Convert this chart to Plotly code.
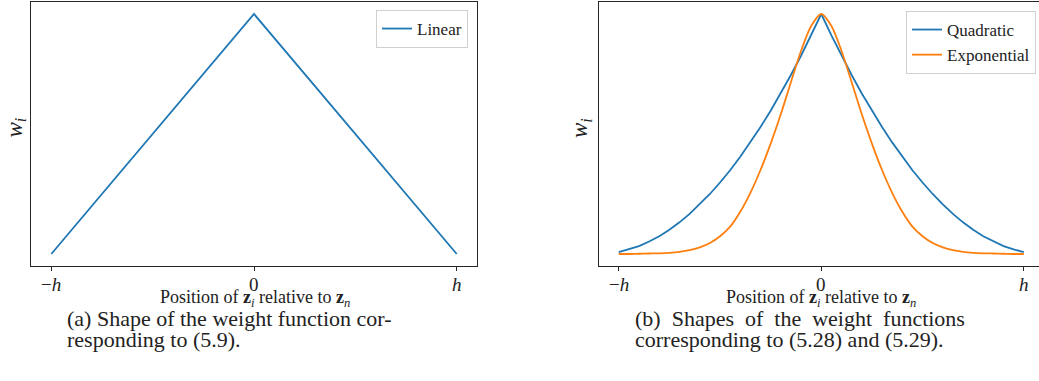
import plotly.graph_objects as go

# Relative position of z_i with respect to z_n (in units of h)
positions = [-1.00, -0.95, -0.90, -0.85, -0.80, -0.75, -0.70, -0.65, -0.60, -0.55,
             -0.50, -0.45, -0.40, -0.35, -0.30, -0.25, -0.20, -0.15, -0.10, -0.05,
             0.00, 0.05, 0.10, 0.15, 0.20, 0.25, 0.30, 0.35, 0.40, 0.45,
             0.50, 0.55, 0.60, 0.65, 0.70, 0.75, 0.80, 0.85, 0.90, 0.95, 1.00]

linear_pos = [-1.0, 0.0, 1.0]
linear_w = [0.0, 1.0, 0.0]

quadratic_w = [0.008, 0.019, 0.033, 0.052, 0.074, 0.101, 0.132, 0.167, 0.207, 0.250,
               0.298, 0.349, 0.405, 0.465, 0.529, 0.597, 0.669, 0.746, 0.826, 0.911,
               1.000,
               0.911, 0.826, 0.746, 0.669, 0.597, 0.529, 0.465, 0.405, 0.349, 0.298,
               0.250, 0.207, 0.167, 0.132, 0.101, 0.074, 0.052, 0.033, 0.019, 0.008]

exponential_w = [0.000, 0.000, 0.001, 0.002, 0.003, 0.005, 0.009, 0.016, 0.028, 0.046,
                 0.074, 0.114, 0.176, 0.255, 0.350, 0.460, 0.582, 0.716, 0.846, 0.950,
                 1.000,
                 0.950, 0.846, 0.716, 0.582, 0.460, 0.350, 0.255, 0.176, 0.114, 0.074,
                 0.046, 0.028, 0.016, 0.009, 0.005, 0.003, 0.002, 0.001, 0.000, 0.000]

tick_vals = [-1, 0, 1]
tick_text = ["\u2212<i>h</i>", "0", "<i>h</i>"]

BLUE = "#1f77b4"
ORANGE = "#ff7f0e"
INK = "#222222"
SERIF = "Liberation Serif, DejaVu Serif, serif"
W, H = 1039, 381


def px(x):
    return x / W


def py(y):
    return 1 - y / H


fig = go.Figure()

fig.add_trace(go.Scatter(x=linear_pos, y=linear_w, mode="lines", name="Linear",
                         line=dict(color=BLUE, width=1.8),
                         xaxis="x", yaxis="y", legend="legend"))
fig.add_trace(go.Scatter(x=positions, y=quadratic_w, mode="lines", name="Quadratic",
                         line=dict(color=BLUE, width=1.8),
                         xaxis="x2", yaxis="y2", legend="legend2"))
fig.add_trace(go.Scatter(x=positions, y=exponential_w, mode="lines", name="Exponential",
                         line=dict(color=ORANGE, width=1.8, shape="spline", smoothing=0.8),
                         xaxis="x2", yaxis="y2", legend="legend2"))

axis_common = dict(showline=True, linecolor="#262626", linewidth=1.2, mirror=True,
                   showgrid=False, zeroline=False)

xaxis_common = dict(axis_common, tickmode="array", tickvals=tick_vals,
                    ticks="outside", ticklen=4, tickwidth=1, tickcolor="#262626",
                    showticklabels=False)
yaxis_common = dict(axis_common, showticklabels=False, ticks="", range=[-0.05, 1.05])

legend_common = dict(xanchor="right", yanchor="top",
                     bgcolor="white", bordercolor="#d0d0d0", borderwidth=1,
                     font=dict(family=SERIF, size=17, color=INK),
                     tracegroupgap=0, itemwidth=30)

fig.update_layout(
    width=W, height=H, autosize=False,
    margin=dict(l=0, r=0, t=0, b=0),
    paper_bgcolor="white", plot_bgcolor="white",
    xaxis=dict(xaxis_common, domain=[px(31), px(477)], range=[-1.1, 1.1], anchor="y"),
    yaxis=dict(yaxis_common, domain=[py(266), py(2)], anchor="x"),
    xaxis2=dict(xaxis_common, domain=[px(598.5), 1.0], range=[-1.1, 1.075], anchor="y2"),
    yaxis2=dict(yaxis_common, domain=[py(266), py(2)], anchor="x2"),
    legend=dict(legend_common, x=px(468), y=py(10)),
    legend2=dict(legend_common, x=px(1036), y=py(11)),
    showlegend=True,
)

annotations = []
# tick labels under each x axis
for xref in ("x", "x2"):
    for val, label in zip(tick_vals, tick_text):
        annotations.append(dict(x=val, y=py(284), xref=xref, yref="paper",
                                text=label, showarrow=False,
                                font=dict(family=SERIF, size=19, color=INK),
                                xanchor="center", yanchor="middle"))
# y-axis labels
for xpos, ypos in ((15.5, 128), (581, 128)):
    annotations.append(dict(x=px(xpos), y=py(ypos), xref="paper", yref="paper",
                            text="<i>w</i><sub><i>i</i></sub>", showarrow=False,
                            textangle=-90, font=dict(family=SERIF, size=23, color=INK),
                            xanchor="center", yanchor="middle"))
# x-axis labels
for xpos in (255, 821):
    annotations.append(dict(x=px(xpos), y=py(298), xref="paper", yref="paper",
                            text="Position of <b>z</b><sub><i>i</i></sub> relative to <b>z</b><sub><i>n</i></sub>",
                            showarrow=False, font=dict(family=SERIF, size=18, color=INK),
                            xanchor="center", yanchor="middle"))
# sub-figure captions
captions = [
    (65, 318, "(a) Shape of the weight function cor-"),
    (65, 339, "responding to (5.9)."),
    (633, 318, "(b)&nbsp;&nbsp;Shapes&nbsp;&nbsp;of&nbsp;&nbsp;the&nbsp;&nbsp;weight&nbsp;&nbsp;functions"),
    (633, 339, "corresponding to (5.28) and (5.29)."),
]
for xpos, ypos, txt in captions:
    annotations.append(dict(x=px(xpos), y=py(ypos), xref="paper", yref="paper",
                            text=txt, showarrow=False,
                            font=dict(family=SERIF, size=22, color=INK),
                            xanchor="left", yanchor="middle"))

fig.update_layout(annotations=annotations)

fig.write_html("out.html")
